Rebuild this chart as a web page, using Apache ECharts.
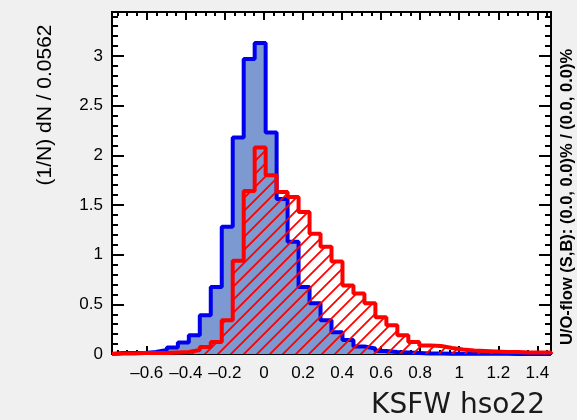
<!DOCTYPE html>
<html>
<head>
<meta charset="utf-8">
<script src="https://cdn.jsdelivr.net/npm/echarts@6/dist/echarts.min.js"></script>
<style>
  html, body { margin: 0; padding: 0; background: #f0f0f0; }
  #chart { width: 577px; height: 420px; }
</style>
</head>
<body>
<div id="chart"></div>
<script>
// KSFW hso22: normalised signal (blue) and background (red hatched) distributions
const binMin = -0.778;
const binWidth = 0.0562;

const signal = [
  0.01, 0.01, 0.01, 0.02, 0.04, 0.065, 0.115, 0.19, 0.39, 0.675,
  1.28, 2.18, 2.97, 3.13, 2.23, 1.56, 1.13, 0.675, 0.51, 0.34,
  0.22, 0.14, 0.075, 0.055, 0.03, 0.02, 0.015, 0.01, 0.005, 0.005,
  0.003, 0.003, 0.002, 0.002, 0.002, 0.002, 0.001, 0.001, 0.001, 0.001
];

const background = [
  0.005, 0.005, 0.01, 0.01, 0.01, 0.015, 0.02, 0.04, 0.07, 0.12,
  0.34, 0.94, 1.64, 2.08, 1.80, 1.63, 1.58, 1.43, 1.21, 1.08,
  0.93, 0.69, 0.61, 0.51, 0.37, 0.29, 0.19, 0.12, 0.085, 0.08,
  0.06, 0.045, 0.035, 0.03, 0.025, 0.02, 0.02, 0.015, 0.015, 0.015
];

const xTickLabels = [-0.6, -0.4, -0.2, 0, 0.2, 0.4, 0.6, 0.8, 1, 1.2, 1.4];
const yTickLabels = [0, 0.5, 1, 1.5, 2, 2.5, 3];

const binMax = binMin + signal.length * binWidth;
const yMax = 1.1 * Math.max(...signal, ...background);

// minor tick positions (0.05 on x, 0.1 on y)
const xMinor = [];
for (let i = -15; i <= 29; i++) xMinor.push(Math.round(i * 5) / 100);
const yMinor = [];
for (let i = 0; i <= 34; i++) yMinor.push(i / 10);

// histogram outline as a step line through the bin edges
function histPoints(values) {
  const pts = [[binMin, 0]];
  values.forEach((v, k) => pts.push([binMin + k * binWidth, v]));
  pts.push([binMax, values[values.length - 1]]);
  pts.push([binMax, 0]);
  return pts;
}

// diagonal hatch tile for the background fill
function hatchTile() {
  const s = 13;
  const c = document.createElement('canvas');
  c.width = s; c.height = s;
  const g = c.getContext('2d');
  g.strokeStyle = '#ff0000';
  g.lineWidth = 1.8;
  g.beginPath();
  g.moveTo(-2, s + 2); g.lineTo(s + 2, -2);
  g.moveTo(-2, 2); g.lineTo(2, -2);
  g.moveTo(s - 2, s + 2); g.lineTo(s + 2, s - 2);
  g.stroke();
  return c;
}

const labelFont = { fontFamily: 'Liberation Sans, Arial, sans-serif', fontSize: 17, color: '#000' };
const fmt = v => {
  const r = Math.round(v * 10) / 10;
  return (r < 0 ? '\u2013' : '') + String(Math.abs(r));
};

function xAxisDef(position, ticks, len, withLabels) {
  return {
    type: 'value', position, min: binMin, max: binMax,
    axisLine: { show: true, onZero: false, lineStyle: { color: '#000', width: 2 } },
    axisTick: { show: true, inside: true, length: len, customValues: ticks, lineStyle: { color: '#000', width: 2 } },
    axisLabel: withLabels ? Object.assign({ show: true, margin: 11, customValues: xTickLabels, formatter: fmt }, labelFont) : { show: false },
    splitLine: { show: false }
  };
}
function yAxisDef(position, ticks, len, withLabels) {
  return {
    type: 'value', position, min: 0, max: yMax,
    axisLine: { show: true, onZero: false, lineStyle: { color: '#000', width: 2 } },
    axisTick: { show: true, inside: true, length: len, customValues: ticks, lineStyle: { color: '#000', width: 2 } },
    axisLabel: withLabels ? Object.assign({ show: true, margin: 9, customValues: yTickLabels, formatter: fmt }, labelFont) : { show: false },
    splitLine: { show: false }
  };
}

const chart = echarts.init(document.getElementById('chart'), null, { renderer: 'canvas' });
chart.setOption({
  animation: false,
  backgroundColor: '#f0f0f0',
  grid: { left: 112, right: 26, top: 12, bottom: 66, show: true, backgroundColor: '#fff', borderColor: '#000', borderWidth: 2 },
  xAxis: [
    xAxisDef('bottom', xTickLabels, 8, true),
    xAxisDef('bottom', xMinor, 4, false),
    xAxisDef('top', xTickLabels, 8, false),
    xAxisDef('top', xMinor, 4, false)
  ],
  yAxis: [
    yAxisDef('left', yTickLabels, 12, true),
    yAxisDef('left', yMinor, 6, false),
    yAxisDef('right', yTickLabels, 12, false),
    yAxisDef('right', yMinor, 6, false)
  ],
  series: [
    {
      name: 'Signal', type: 'line', step: 'end', symbol: 'none', clip: false,
      data: histPoints(signal),
      lineStyle: { color: '#0000ee', width: 4 },
      areaStyle: { color: '#7d99d1', opacity: 1 },
      z: 2
    },
    {
      name: 'Background', type: 'line', step: 'end', symbol: 'none', clip: false,
      data: histPoints(background),
      lineStyle: { color: '#ff0000', width: 4 },
      areaStyle: { color: { image: hatchTile(), repeat: 'repeat' }, opacity: 1 },
      z: 3
    }
  ],
  graphic: [
    {
      type: 'text', x: 45, y: 105, rotation: Math.PI / 2,
      style: { text: '(1/N) dN / 0.0562', fontFamily: 'Liberation Sans, Arial, sans-serif', fontSize: 21, fill: '#000', align: 'center', verticalAlign: 'middle' }
    },
    {
      type: 'text', x: 567, y: 197, rotation: Math.PI / 2,
      style: { text: 'U/O-flow (S,B): (0.0, 0.0)% / (0.0, 0.0)%', fontFamily: 'Liberation Sans, Arial, sans-serif', fontWeight: 'bold', fontSize: 16.5, fill: '#000', align: 'center', verticalAlign: 'middle' }
    },
    {
      type: 'text', right: 32, top: 392,
      style: { text: 'KSFW hso22', fontFamily: 'DejaVu Sans, sans-serif', fontSize: 28, fill: '#1a1a1a' }
    }
  ]
});
</script>
</body>
</html>
